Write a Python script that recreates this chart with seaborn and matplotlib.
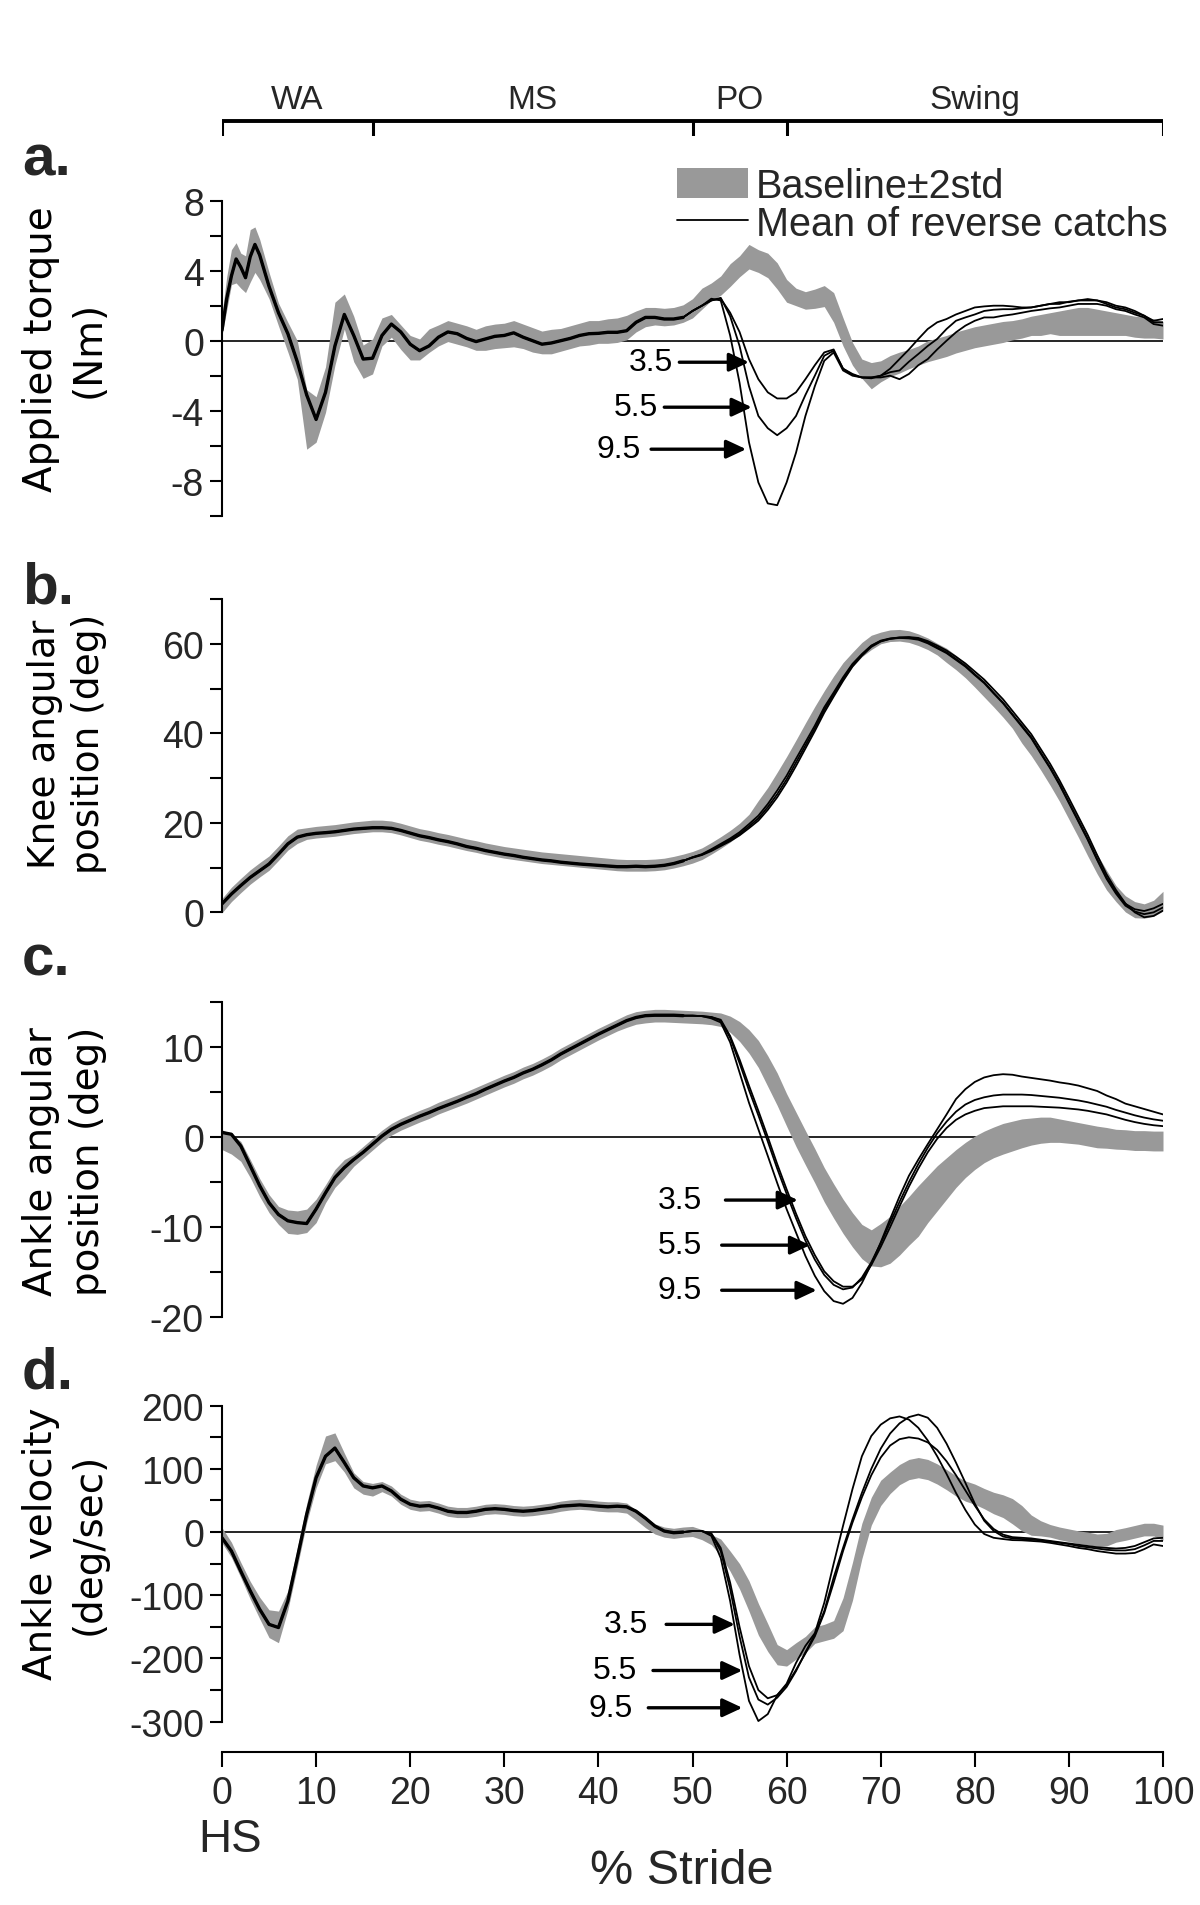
"""Ankle torque / kinematics during reverse catch strides, recreated with seaborn."""
import numpy as np
import pandas as pd
import matplotlib
matplotlib.use("Agg")
import matplotlib.pyplot as plt
import seaborn as sns
from matplotlib import font_manager
from matplotlib.patches import Patch
from matplotlib.lines import Line2D

# ---------------------------------------------------------------- data
STRIDE = np.arange(0, 101)                                              # % stride, panels b-d
STRIDE_A = np.concatenate([np.arange(0, 5, 0.5), np.arange(5, 101)])    # panel a (finer at HS)
SPEEDS = ["3.5", "5.5", "9.5"]

PHASE_EDGES = [0, 16, 50, 60, 100]
PHASE_NAMES = ["WA", "MS", "PO", "Swing"]

# a. applied torque (Nm)
TORQUE_BASE = [0.9, 2.7, 4.2, 4.45, 4.0, 3.8, 4.85, 5.2, 4.65, 3.9,
               3.15, 1.5, 0.2, -1.1, -4.5, -4.5, -2.8, 0.4, 1.67, 0.1,
               -1.2, -0.9, 0.5, 0.85, 0.2, -0.4, -0.5, 0.0, 0.3, 0.55,
               0.4, 0.25, 0.05, 0.15, 0.25, 0.3, 0.4, 0.25, 0.05, -0.1,
               -0.05, 0.05, 0.2, 0.35, 0.45, 0.5, 0.55, 0.6, 0.75, 1.1,
               1.35, 1.4, 1.35, 1.4, 1.55, 1.85, 2.4, 2.8, 3.15, 3.75,
               4.25, 4.8, 4.55, 4.3, 3.7, 2.85, 2.5, 2.3, 2.4, 2.55,
               1.9, 0.5, -0.75, -1.6, -2.0, -1.75, -1.45, -1.25, -1.05, -0.85,
               -0.6, -0.45, -0.3, -0.1, 0.05, 0.2, 0.3, 0.4, 0.5, 0.6,
               0.7, 0.85, 0.9, 1.0, 1.0, 1.05, 1.1, 1.1, 1.05, 1.0,
               0.95, 0.9, 0.8, 0.75, 0.7, 0.6]
TORQUE_SD2 = [0.6, 0.95, 1.0, 1.15, 1.0, 1.05, 1.5, 1.3, 1.15, 0.95,
              0.75, 0.65, 0.85, 1.1, 1.7, 1.3, 1.3, 1.8, 1.0, 1.3,
              0.95, 1.0, 0.8, 0.65, 0.7, 0.7, 0.6, 0.67, 0.6, 0.6,
              0.6, 0.6, 0.6, 0.7, 0.7, 0.7, 0.75, 0.7, 0.7, 0.65,
              0.7, 0.65, 0.65, 0.65, 0.7, 0.65, 0.7, 0.7, 0.7, 0.6,
              0.55, 0.5, 0.5, 0.5, 0.5, 0.55, 0.6, 0.5, 0.55, 0.65,
              0.6, 0.7, 0.65, 0.7, 0.75, 0.65, 0.5, 0.5, 0.55, 0.6,
              0.85, 0.8, 0.65, 0.55, 0.75, 0.6, 0.6, 0.6, 0.55, 0.55,
              0.6, 0.6, 0.6, 0.6, 0.6, 0.6, 0.6, 0.6, 0.6, 0.55,
              0.55, 0.55, 0.6, 0.6, 0.7, 0.75, 0.8, 0.8, 0.75, 0.7,
              0.65, 0.6, 0.6, 0.6, 0.55, 0.5]
TORQUE_PRE = [0.6, 2.4, 3.7, 4.67, 4.2, 3.6, 4.8, 5.5, 4.9, 4.0,
              3.1, 1.6, 0.4, -1.2, -3.1, -4.5, -2.95, -0.3, 1.5, 0.3,
              -1.05, -1.0, 0.3, 0.95, 0.5, -0.2, -0.57, -0.3, 0.2, 0.5,
              0.4, 0.13, -0.05, 0.1, 0.25, 0.3, 0.45, 0.2, 0.0, -0.2,
              -0.13, 0.0, 0.13, 0.3, 0.4, 0.42, 0.48, 0.48, 0.57, 1.05,
              1.33, 1.33, 1.24, 1.24, 1.33]
TORQUE_35 = [1.7, 2.0, 2.3, 2.4, 1.6, 0.5, -1.05, -2.2, -2.95, -3.3,
             -3.3, -2.95, -2.2, -1.4, -0.67, -0.5, -1.6, -1.9, -2.1, -2.1,
             -2.0, -1.6, -1.05, -0.5, 0.1, 0.67, 1.05, 1.24, 1.5, 1.7,
             1.9, 1.96, 2.0, 2.0, 1.96, 1.9, 1.9, 2.0, 2.1, 2.2,
             2.2, 2.3, 2.38, 2.3, 2.2, 2.0, 1.9, 1.7, 1.43, 1.14, 1.24]
TORQUE_55 = [1.7, 2.0, 2.3, 2.45, 1.4, -0.3, -2.6, -4.3, -5.0, -5.4,
             -5.0, -4.3, -3.1, -2.0, -0.86, -0.57, -1.6, -1.95, -2.1, -2.15,
             -2.0, -1.8, -1.7, -1.2, -0.76, -0.3, 0.1, 0.67, 1.14, 1.33,
             1.5, 1.7, 1.77, 1.8, 1.8, 1.85, 1.9, 2.0, 2.1, 2.1,
             2.23, 2.3, 2.3, 2.3, 2.1, 1.9, 1.8, 1.6, 1.43, 1.05, 1.05]
TORQUE_95 = [1.7, 2.0, 2.4, 2.3, 0.3, -2.4, -5.8, -8.1, -9.3, -9.4,
             -8.1, -6.4, -4.3, -2.6, -1.15, -0.67, -1.7, -2.0, -2.1, -2.1,
             -2.1, -2.0, -2.2, -1.9, -1.4, -1.05, -0.5, 0.0, 0.48, 0.86,
             1.14, 1.33, 1.33, 1.43, 1.5, 1.6, 1.7, 1.77, 1.85, 1.9,
             2.0, 2.1, 2.1, 2.1, 2.0, 1.8, 1.7, 1.5, 1.33, 0.95, 0.86]

# b. knee angular position (deg)
KNEE_BASE = [1.5, 4.0, 6.0, 7.9, 9.5, 11.0, 13.2, 15.5, 17.0, 17.6,
             17.9, 18.1, 18.3, 18.6, 18.9, 19.1, 19.3, 19.3, 19.1, 18.6,
             18.0, 17.4, 17.0, 16.5, 16.1, 15.6, 15.1, 14.7, 14.2, 13.8,
             13.4, 13.1, 12.8, 12.5, 12.2, 12.0, 11.8, 11.6, 11.4, 11.2,
             11.0, 10.8, 10.6, 10.5, 10.5, 10.5, 10.6, 10.8, 11.2, 11.7,
             12.3, 13.1, 14.3, 15.6, 17.0, 18.6, 20.6, 23.0, 25.9, 29.3,
             32.8, 36.5, 40.3, 44.0, 47.5, 50.8, 53.8, 56.5, 58.7, 60.3,
             61.3, 61.8, 61.9, 61.6, 60.9, 60.0, 58.8, 57.4, 55.8, 54.0,
             51.9, 49.7, 47.5, 45.2, 42.7, 40.0, 37.2, 34.0, 30.6, 27.0,
             23.0, 19.0, 14.8, 10.8, 7.2, 4.2, 1.9, 0.6, 0.3, 0.9, 2.5]
KNEE_SD2 = [1.6, 1.6, 1.6, 1.6, 1.6, 1.6, 1.6, 1.6, 1.6, 1.3,
            1.3, 1.3, 1.3, 1.3, 1.3, 1.3, 1.3, 1.3, 1.3, 1.3,
            1.3, 1.3, 1.3, 1.3, 1.3, 1.3, 1.3, 1.3, 1.3, 1.3,
            1.3, 1.3, 1.3, 1.3, 1.3, 1.3, 1.3, 1.3, 1.3, 1.3,
            1.3, 1.3, 1.3, 1.3, 1.3, 1.3, 1.3, 1.3, 1.3, 1.3,
            1.3, 1.3, 1.3, 1.3, 1.3, 1.3, 1.3, 2.0, 2.0, 2.0,
            2.0, 2.0, 2.0, 2.0, 2.0, 2.0, 2.0, 1.6, 1.6, 1.6,
            1.3, 1.3, 1.3, 1.3, 1.3, 1.3, 1.3, 1.6, 1.6, 1.6,
            1.6, 1.6, 1.6, 1.6, 1.6, 2.2, 2.2, 2.2, 2.2, 2.2,
            2.2, 2.2, 2.2, 2.2, 2.2, 1.8, 1.8, 1.8, 1.6, 1.8, 2.2]
KNEE_PRE = [1.9, 4.1, 6.0, 7.8, 9.3, 10.8, 13.0, 15.3, 16.8, 17.35,
            17.65, 17.8, 18.0, 18.3, 18.6, 18.76, 18.9, 18.9, 18.76, 18.3,
            17.7, 17.1, 16.7, 16.2, 15.8, 15.3, 14.7, 14.3, 13.8, 13.4,
            13.0, 12.7, 12.3, 12.0, 11.7, 11.5, 11.2, 11.0, 10.8, 10.65,
            10.5, 10.35, 10.2, 10.2, 10.3, 10.2, 10.3, 10.5, 10.9, 11.5]
KNEE_35 = [12.3, 13.0, 14.1, 15.3, 16.5, 17.9, 19.7, 21.6, 24.2, 27.2,
           30.5, 34.3, 38.0, 41.7, 45.8, 49.1, 52.5, 55.5, 57.7, 59.6,
           60.7, 61.2, 61.4, 61.4, 61.1, 60.3, 59.2, 58.1, 56.6, 55.1,
           53.2, 51.4, 49.1, 46.9, 44.3, 41.7, 39.1, 35.7, 32.4, 28.7,
           24.6, 20.5, 16.4, 11.9, 7.8, 4.5, 1.9, 0.7, 0.3, 0.9, 1.9]
KNEE_55 = [12.3, 12.9, 13.9, 15.0, 16.2, 17.5, 19.2, 21.0, 23.5, 26.4,
           29.7, 33.5, 37.3, 41.1, 45.2, 48.7, 52.1, 55.2, 57.5, 59.5,
           60.6, 61.1, 61.3, 61.2, 60.9, 60.1, 59.0, 57.9, 56.4, 54.9,
           53.0, 51.2, 48.9, 46.7, 44.1, 41.5, 38.9, 35.5, 32.2, 28.5,
           24.4, 20.3, 16.2, 11.7, 7.5, 4.2, 1.5, 0.2, -0.4, 0.0, 1.1]
KNEE_95 = [12.2, 12.8, 13.7, 14.8, 15.9, 17.2, 18.8, 20.5, 22.9, 25.7,
           29.0, 32.7, 36.6, 40.5, 44.6, 48.2, 51.7, 54.9, 57.3, 59.3,
           60.5, 61.1, 61.4, 61.5, 61.3, 60.6, 59.6, 58.5, 57.1, 55.6,
           53.8, 52.0, 49.8, 47.6, 45.0, 42.4, 39.8, 36.5, 33.2, 29.5,
           25.5, 21.4, 17.3, 12.8, 8.5, 5.0, 2.0, 0.0, -1.1, -0.8, 0.4]

# c. ankle angular position (deg)
ANKLE_BASE = [-0.3, -0.8, -1.6, -3.5, -5.6, -7.4, -8.7, -9.4, -9.5, -9.3,
              -8.2, -6.3, -4.6, -3.5, -2.6, -1.7, -0.8, 0.1, 0.85, 1.4,
              1.85, 2.3, 2.7, 3.2, 3.6, 4.0, 4.4, 4.85, 5.3, 5.75,
              6.2, 6.6, 7.1, 7.5, 8.0, 8.55, 9.2, 9.75, 10.3, 10.85,
              11.4, 11.9, 12.4, 12.85, 13.2, 13.35, 13.45, 13.45, 13.4, 13.35,
              13.3, 13.25, 13.15, 13.0, 12.5, 11.7, 10.6, 9.2, 7.3, 5.3,
              3.0, 0.85, -1.2, -3.2, -5.3, -7.1, -8.8, -10.3, -11.6, -12.3,
              -12.0, -11.4, -10.4, -9.3, -8.2, -6.9, -5.7, -4.6, -3.5, -2.55,
              -1.75, -1.1, -0.6, -0.2, 0.1, 0.4, 0.6, 0.75, 0.8, 0.7,
              0.55, 0.4, 0.2, 0.0, -0.1, -0.25, -0.3, -0.4, -0.4, -0.45, -0.45]
ANKLE_SD2 = [1.1, 1.1, 1.1, 1.0, 1.0, 1.0, 1.0, 1.3, 1.3, 1.3,
             1.3, 1.0, 1.0, 1.0, 0.65, 0.65, 0.65, 0.65, 0.65, 0.65,
             0.65, 0.65, 0.65, 0.65, 0.65, 0.65, 0.65, 0.65, 0.65, 0.65,
             0.65, 0.65, 0.65, 0.65, 0.65, 0.65, 0.65, 0.65, 0.65, 0.65,
             0.65, 0.65, 0.65, 0.7, 0.7, 0.7, 0.7, 0.7, 0.7, 0.7,
             0.7, 0.7, 0.7, 0.75, 0.9, 1.1, 1.3, 1.5, 1.7, 1.8,
             1.8, 1.9, 1.9, 1.9, 1.9, 1.9, 1.9, 1.9, 1.9, 2.0,
             2.4, 2.6, 2.7, 2.7, 2.8, 2.6, 2.5, 2.3, 2.1, 1.95,
             1.85, 1.75, 1.7, 1.7, 1.65, 1.6, 1.5, 1.45, 1.4, 1.3,
             1.25, 1.2, 1.2, 1.2, 1.15, 1.1, 1.1, 1.1, 1.1, 1.1, 1.1]
ANKLE_PRE = [0.5, 0.3, -1.0, -3.2, -5.4, -7.3, -8.6, -9.3, -9.5, -9.6,
             -8.0, -6.2, -4.5, -3.4, -2.5, -1.7, -0.8, 0.1, 0.85, 1.4,
             1.85, 2.3, 2.7, 3.15, 3.55, 3.95, 4.4, 4.8, 5.3, 5.75,
             6.2, 6.6, 7.1, 7.5, 8.0, 8.55, 9.2, 9.75, 10.3, 10.85,
             11.4, 11.9, 12.4, 12.9, 13.25, 13.45, 13.5, 13.5, 13.5, 13.45]
ANKLE_35 = [13.45, 13.4, 13.3, 13.0, 11.2, 8.6, 5.7, 2.9, 0.0, -3.0,
            -5.8, -8.5, -11.0, -13.1, -14.9, -16.0, -16.6, -16.6, -15.8, -14.2,
            -12.2, -10.0, -7.7, -5.5, -3.5, -1.7, -0.2, 1.0, 1.9, 2.5,
            2.9, 3.2, 3.3, 3.4, 3.4, 3.4, 3.4, 3.35, 3.3, 3.25,
            3.15, 3.05, 2.9, 2.7, 2.5, 2.2, 1.9, 1.65, 1.45, 1.3, 1.2]
ANKLE_55 = [13.45, 13.4, 13.3, 12.9, 11.0, 8.2, 5.2, 2.4, -0.5, -3.5,
            -6.3, -9.0, -11.5, -13.6, -15.3, -16.4, -16.9, -16.7, -15.6, -13.9,
            -11.8, -9.5, -7.2, -5.0, -3.0, -1.2, 0.4, 1.7, 2.8, 3.6,
            4.1, 4.4, 4.6, 4.7, 4.7, 4.7, 4.65, 4.55, 4.45, 4.35,
            4.2, 4.05, 3.85, 3.6, 3.35, 3.0, 2.7, 2.4, 2.15, 1.95, 1.8]
ANKLE_95 = [13.45, 13.4, 13.15, 12.7, 10.5, 7.15, 3.8, 0.85, -2.1, -5.1,
            -8.0, -10.6, -13.2, -15.4, -17.1, -18.2, -18.5, -17.85, -16.2, -14.1,
            -11.7, -9.1, -6.6, -4.3, -2.5, -0.8, 0.85, 2.5, 4.2, 5.3,
            6.1, 6.6, 6.85, 6.96, 6.9, 6.7, 6.55, 6.4, 6.25, 6.05,
            5.9, 5.7, 5.4, 5.1, 4.6, 4.2, 3.7, 3.4, 3.1, 2.8, 2.5]

# d. ankle velocity (deg/sec)
VEL_BASE = [-5, -28, -60, -92, -120, -145, -150, -108, -40, 30,
            88, 130, 135, 110, 82, 70, 67, 72, 65, 52,
            44, 41, 42, 38, 33, 31, 31, 33, 36, 37,
            36, 34, 33, 34, 36, 38, 41, 43, 44, 43,
            41, 40, 40, 38, 27, 15, 5, 0, -2, 0,
            1, -4, -12, -24, -46, -70, -101, -138, -167, -194,
            -199, -188, -178, -163, -159, -154, -130, -78, -14, 33,
            62, 78, 91, 99, 102, 99, 92, 83, 73, 65,
            60, 53, 46, 41, 33, 22, 11, 6, 2, -2,
            -5, -8, -10, -13, -12, -6, -3, 0.5, 4, 4, -1]
VEL_SD2 = [12, 12, 12, 14, 17, 22, 25, 15, 15, 15,
           18, 22, 22, 15, 12, 10, 10, 8, 8, 8,
           8, 8, 8, 8, 8, 8, 8, 8, 8, 8,
           8, 8, 8, 8, 8, 8, 8, 8, 8, 8,
           8, 8, 8, 8, 8, 8, 8, 8, 8, 8,
           8, 8, 8, 13, 16, 20, 24, 25, 22, 16,
           13, 13, 13, 13, 13, 14, 26, 30, 28, 22,
           20, 17, 16, 16, 16, 16, 16, 16, 16, 16,
           16, 16, 17, 18, 20, 20, 16, 12, 10, 10,
           10, 10, 10, 10, 10, 10, 10, 10, 10, 10, 12]
VEL_PRE = [-9, -30, -62, -93, -122, -146, -151, -109, -41, 28,
           86, 120, 133, 110, 86, 73, 70, 73, 65, 52,
           44, 41, 42, 38, 33, 31, 31, 33, 36, 37,
           36, 34, 33, 34, 36, 38, 41, 42, 43, 42,
           41, 40, 41, 40, 33, 22, 9.5, 1.6, -1, 0]
VEL_35 = [1.6, 1.6, -2, -25, -80, -150, -212, -250, -263, -258,
          -242, -218, -192, -165, -128, -80, -30, 15, 55, 90,
          118, 137, 147, 150, 148, 142, 130, 112, 90, 66,
          42, 20, 5, -4, -8, -9, -10, -12, -14, -16,
          -18, -20, -22, -24, -25, -26, -25, -22, -16, -10, -9]
VEL_55 = [1.6, 1.6, -3, -30, -90, -165, -230, -265, -273, -262,
          -245, -220, -190, -162, -125, -72, -25, 20, 62, 100,
          132, 156, 172, 182, 186, 181, 165, 140, 110, 78,
          45, 18, 2, -7, -10, -11, -12, -13, -15, -17,
          -19, -22, -24, -26, -28, -29, -29, -27, -21, -14, -14]
VEL_95 = [1.6, 1.6, -6, -41, -109, -194, -267, -299, -288, -258,
          -240, -207, -180, -160, -112, -50, 10, 68, 120, 152,
          170, 180, 183, 178, 165, 145, 120, 92, 62, 35,
          12, -3, -9, -11, -12.7, -13, -14, -15, -17, -19.5,
          -22, -25, -27, -30, -32, -34, -34, -33, -27, -19.5, -22]

# ---------------------------------------------------------------- style
GRAY = "#999999"
FIG_W, FIG_H = 1200, 1906
X0, X1 = 222, 1163            # pixel columns of 0 % and 100 % stride

sns.set_theme(style="ticks")
plt.rcParams["font.family"] = ["Liberation Sans", "DejaVu Sans"]
plt.rcParams["axes.unicode_minus"] = False

_names = {f.name for f in font_manager.fontManager.ttflist}
NARROW = "Liberation Sans Narrow" if "Liberation Sans Narrow" in _names else "Liberation Sans"
WIDE = "DejaVu Sans"


def rect(top, bottom, left=X0, right=X1):
    """figure-fraction rectangle from pixel edges (y measured from the top)"""
    return [left / FIG_W, 1 - bottom / FIG_H, (right - left) / FIG_W, (bottom - top) / FIG_H]


def draw_panel(ax, x, base, sd2, pre, catches, zero=True):
    x = np.asarray(x, dtype=float)
    base = np.asarray(base, dtype=float)
    sd2 = np.asarray(sd2, dtype=float)
    if zero:
        ax.axhline(0, color="black", lw=1.2, zorder=1)
    ax.fill_between(x, base - sd2, base + sd2, color=GRAY, lw=0, zorder=2)

    frames = []
    for name, post in zip(SPEEDS, catches):
        frames.append(pd.DataFrame({"stride": x, "value": np.concatenate([pre, post]), "speed": name}))
    df = pd.concat(frames, ignore_index=True)
    sns.lineplot(data=df, x="stride", y="value", units="speed", estimator=None,
                 color="black", lw=1.3, ax=ax, zorder=3, legend=False)
    # before perturbation onset the three catch means sit on top of each other
    sns.lineplot(x=x[:len(pre)], y=pre, color="black", lw=2.4, ax=ax, zorder=3)


def style_axes(ax, ylim, bounds, major, minor, ylabel, label_y, label_size=28):
    ax.set_xlim(0, 100)
    ax.set_ylim(*ylim)
    for side in ["top", "right", "bottom"]:
        ax.spines[side].set_visible(False)
    ax.spines["left"].set_bounds(*bounds)
    ax.spines["left"].set_linewidth(1.5)
    ax.spines["left"].set_color("black")
    ax.set_yticks(major)
    ax.set_yticklabels([str(v) for v in major])
    ax.set_yticks(minor, minor=True)
    ax.tick_params(axis="y", which="both", direction="out", length=9, width=1.5,
                   color="black", labelsize=27, pad=4, labelfontfamily=NARROW)
    ax.tick_params(axis="x", bottom=False, labelbottom=False)
    ax.set_xlabel("")
    ax.set_ylabel(ylabel, fontsize=label_size, family=WIDE, linespacing=1.3, color="black")
    ax.yaxis.set_label_coords(-0.122, label_y)
    ax.set_facecolor("white")


def add_arrows(ax, ys, tails, tips, text_x):
    for name, y, t0, t1, tx in zip(SPEEDS, ys, tails, tips, text_x):
        ax.annotate("", xy=(t1, y), xytext=(t0, y), zorder=5,
                    arrowprops=dict(arrowstyle="-|>,head_length=0.6,head_width=0.28",
                                    lw=2.4, color="black", mutation_scale=20,
                                    shrinkA=0, shrinkB=0))
        ax.text(tx, y, name, ha="right", va="center", fontsize=23, color="black")


fig = plt.figure(figsize=(FIG_W / 100, FIG_H / 100), dpi=100)
fig.patch.set_facecolor("white")

# ---- stance / swing phase bar
ax_p = fig.add_axes(rect(92, 137))
ax_p.set_xlim(0, 100)
ax_p.set_ylim(0, 1)
ax_p.axis("off")
bar_y = 0.342
ax_p.hlines(bar_y, PHASE_EDGES[0], PHASE_EDGES[-1], color="black", lw=2.8, capstyle="projecting")
ax_p.vlines(PHASE_EDGES, 0, bar_y, color="black", lw=2.2)
for lo, hi, name in zip(PHASE_EDGES[:-1], PHASE_EDGES[1:], PHASE_NAMES):
    ax_p.text((lo + hi) / 2, 0.82, name, ha="center", va="center", fontsize=24)

# ---- a. torque
ax_a = fig.add_axes(rect(201.7, 516.7))
draw_panel(ax_a, STRIDE_A, TORQUE_BASE, TORQUE_SD2, TORQUE_PRE, [TORQUE_35, TORQUE_55, TORQUE_95])
style_axes(ax_a, (-10, 8), (-10, 8), [-8, -4, 0, 4, 8], [-10, -6, -2, 2, 6],
           "Applied torque\n(Nm)", 0.532)
add_arrows(ax_a, [-1.23, -3.8, -6.2], [48.6, 47.0, 45.6], [56.0, 56.3, 55.7], [47.9, 46.3, 44.5])
handles = [Patch(facecolor=GRAY, edgecolor="none"), Line2D([], [], color="black", lw=1.3)]
ax_a.legend(handles, ["Baseline±2std", "Mean of reverse catchs"], loc="upper left",
            bbox_to_anchor=(0.483, 1.108), frameon=False, fontsize=28.5, handlelength=1.8,
            handleheight=0.8, handletextpad=0.2, labelspacing=0.0, borderpad=0,
            borderaxespad=0)

# ---- b. knee
ax_b = fig.add_axes(rect(600, 922.3))
draw_panel(ax_b, STRIDE, KNEE_BASE, KNEE_SD2, KNEE_PRE, [KNEE_35, KNEE_55, KNEE_95], zero=False)
style_axes(ax_b, (-2, 70), (0, 70), [0, 20, 40, 60], [10, 30, 50, 70],
           "Knee angular\nposition (deg)", 0.553, label_size=27)

# ---- c. ankle angle
ax_c = fig.add_axes(rect(1002.7, 1318.3))
draw_panel(ax_c, STRIDE, ANKLE_BASE, ANKLE_SD2, ANKLE_PRE, [ANKLE_35, ANKLE_55, ANKLE_95])
style_axes(ax_c, (-20, 15), (-20, 15), [-20, -10, 0, 10], [-15, -5, 5, 15],
           "Ankle angular\nposition (deg)", 0.498)
add_arrows(ax_c, [-7.0, -12.0, -17.0], [53.5, 53.1, 53.1], [61.2, 62.5, 63.2], [51.0, 51.0, 51.0])

# ---- d. ankle velocity
ax_d = fig.add_axes(rect(1406.7, 1729))
draw_panel(ax_d, STRIDE, VEL_BASE, VEL_SD2, VEL_PRE, [VEL_35, VEL_55, VEL_95])
style_axes(ax_d, (-310, 200), (-300, 200), [-300, -200, -100, 0, 100, 200],
           [-250, -150, -50, 50, 150], "Ankle velocity\n(deg/sec)", 0.574)
add_arrows(ax_d, [-146, -219, -278], [47.2, 45.8, 45.3], [54.5, 55.3, 55.3], [45.3, 44.1, 43.7])
ax_d.spines["bottom"].set_visible(True)
ax_d.spines["bottom"].set_color("black")
ax_d.spines["bottom"].set_linewidth(1.5)
ax_d.spines["bottom"].set_position(("outward", 17))
ax_d.spines["bottom"].set_bounds(0, 100)
ax_d.set_xticks(np.arange(0, 101, 10))
ax_d.set_xticklabels([str(v) for v in range(0, 101, 10)])
ax_d.tick_params(axis="x", bottom=True, labelbottom=True, direction="out", length=10.5,
                 width=1.5, color="black", labelsize=27, pad=6, labelfontfamily=NARROW)

fig.text(230 / FIG_W, 1 - 1840 / FIG_H, "HS", ha="center", va="center", fontsize=33, family=NARROW)
fig.text(682 / FIG_W, 1 - 1872 / FIG_H, "% Stride", ha="center", va="center", fontsize=35, family=NARROW)

# ---- panel letters
for letter, base_y in zip(["a.", "b.", "c.", "d."], [176, 603, 976, 1389]):
    fig.text(22 / FIG_W, 1 - base_y / FIG_H, letter, ha="left", va="baseline",
             fontsize=42, fontweight="bold")

fig.savefig("out.png", dpi=100, facecolor="white")
